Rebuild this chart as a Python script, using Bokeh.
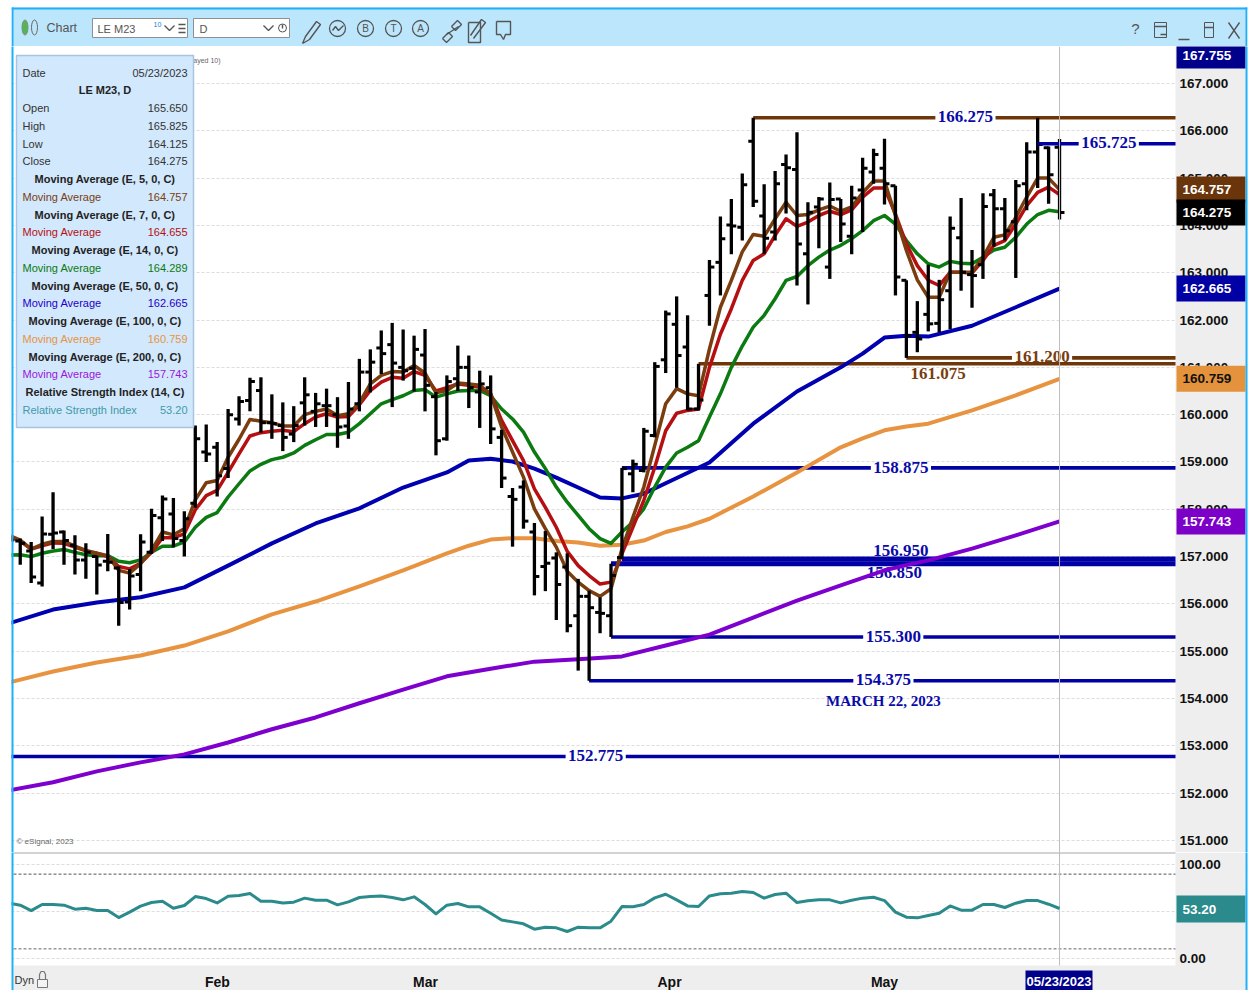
from bokeh.plotting import figure
from bokeh.layouts import column
from bokeh.models import Range1d, FixedTicker, NumeralTickFormatter
from bokeh.core.properties import value
from bokeh.embed import file_html
from bokeh.resources import INLINE

# ---------- data ----------
highs = [157.43,157.38,157.31,157.85,158.36,157.55,157.45,157.28,157.02,157.48,156.79,156.74,157.47,158.01,158.29,158.24,157.96,159.77,159.79,159.42,
 160.12,160.39,160.78,160.79,160.43,160.26,160.18,160.79,160.46,160.55,160.37,160.69,161.18,161.38,161.78,161.94,161.80,161.67,161.81,160.48,
 160.83,161.46,161.25,160.93,160.83,159.68,158.45,158.61,157.71,157.54,157.09,157.07,156.53,156.28,156.14,156.85,158.875,159.05,159.72,161.11,
 162.20,162.50,162.10,161.075,163.27,164.19,164.56,165.10,166.275,164.87,165.15,165.50,165.97,164.49,164.60,164.91,164.56,164.84,165.43,165.62,
 165.83,164.84,162.84,162.40,163.17,162.85,164.19,164.58,163.48,164.68,164.77,164.58,164.96,165.76,166.275,165.67,165.825]
lows = [157.27,156.83,156.44,156.37,157.16,156.83,156.62,156.53,156.20,156.69,155.54,155.88,156.27,157.06,157.33,157.20,157.00,158.03,159.00,158.27,
 158.66,159.77,160.07,159.62,159.49,159.23,159.42,159.77,159.74,159.74,159.30,159.49,160.07,160.47,160.86,160.16,160.72,160.49,160.07,159.14,
 159.45,160.50,160.14,159.72,159.38,158.45,157.21,157.59,156.18,156.27,155.66,155.40,154.59,154.375,155.38,155.30,156.95,158.36,158.78,159.52,
 160.88,160.57,160.09,160.09,161.88,162.52,163.39,163.68,164.39,163.40,163.68,164.25,162.73,162.33,163.52,162.87,163.65,163.39,163.86,164.88,
 164.44,162.52,161.20,161.32,161.76,161.74,161.81,162.62,162.26,162.87,163.55,163.68,162.89,164.32,164.79,164.46,164.125]
opens = [157.38,157.33,157.12,156.44,157.47,157.52,157.24,156.93,157.00,156.90,156.76,156.04,156.62,157.09,157.82,157.90,157.34,158.13,159.21,159.31,
 158.86,159.91,160.30,160.51,159.83,159.77,159.59,160.25,160.07,160.19,160.00,159.76,160.23,160.90,161.41,161.48,161.00,160.98,161.26,160.38,
 159.49,160.76,161.00,160.48,160.57,159.52,158.27,158.47,157.52,156.79,156.97,156.78,155.75,156.16,155.82,155.75,156.98,158.75,158.82,159.56,
 161.16,161.91,161.43,160.12,162.52,163.22,164.01,163.96,165.78,164.20,163.86,165.29,165.18,163.40,164.39,163.12,164.56,163.77,164.75,165.13,
 165.21,164.84,162.84,161.74,162.12,161.93,162.62,163.74,162.96,163.17,164.65,164.35,164.08,164.88,165.55,165.64,165.65]
closes = [157.35,157.28,156.57,157.48,157.50,157.34,156.93,157.09,156.82,156.88,156.03,156.59,157.31,157.87,158.22,157.38,157.80,159.49,159.17,158.71,
 160.00,160.28,160.70,159.83,159.81,159.52,159.77,160.42,160.23,160.19,159.74,160.12,160.90,161.11,161.29,161.09,160.93,161.38,160.62,159.45,
 160.70,161.00,160.57,160.65,159.70,158.66,158.21,157.75,156.58,156.86,156.41,155.54,156.16,155.92,155.80,156.60,158.86,158.95,159.65,161.02,
 162.13,161.25,160.12,160.31,163.12,163.72,163.99,164.86,164.51,163.73,164.88,165.22,163.61,164.28,164.56,164.55,164.03,164.58,165.21,165.50,
 164.88,162.91,161.67,161.60,161.92,162.43,163.94,163.01,162.94,164.40,164.35,163.89,164.84,165.55,165.71,165.07,164.275]

ma5 = [157.45,157.35,157.16,157.26,157.32,157.32,157.22,157.13,157.07,157.02,156.71,156.65,156.85,157.13,157.52,157.46,157.59,158.20,158.56,158.61,
 159.10,159.48,159.90,159.86,159.83,159.76,159.76,160.00,160.07,160.12,159.98,160.02,160.25,160.65,160.83,160.91,160.90,161.04,160.88,160.46,
 160.51,160.67,160.65,160.62,160.44,159.74,159.21,158.68,158.01,157.59,157.20,156.69,156.46,156.28,156.16,156.32,157.16,157.83,158.47,159.35,
 160.23,160.55,160.44,160.40,161.39,162.27,162.84,163.44,163.81,163.77,164.14,164.49,164.21,164.23,164.33,164.41,164.30,164.39,164.69,164.94,
 164.94,164.21,163.47,162.85,162.48,162.48,163.01,163.01,163.01,163.33,163.75,163.80,164.17,164.60,165.00,165.00,164.757]
ma7 = [157.42,157.33,157.16,157.23,157.29,157.28,157.20,157.12,157.07,157.00,156.79,156.74,156.86,157.09,157.40,157.40,157.48,157.99,158.29,158.40,
 158.78,159.17,159.55,159.62,159.65,159.67,159.64,159.81,159.95,160.02,159.95,159.96,160.21,160.51,160.69,160.79,160.77,160.91,160.83,160.50,
 160.57,160.65,160.62,160.58,160.44,159.88,159.45,159.03,158.43,158.04,157.62,157.11,156.81,156.60,156.42,156.46,157.06,157.62,158.19,158.89,
 159.66,160.03,160.09,160.12,161.00,161.70,162.24,162.84,163.26,163.40,163.79,164.14,163.98,164.07,164.21,164.30,164.23,164.33,164.60,164.79,
 164.79,164.24,163.61,163.15,162.84,162.73,163.01,163.01,162.99,163.26,163.58,163.68,164.03,164.42,164.70,164.81,164.655]
ma14 = [157.03,157.04,157.00,157.07,157.12,157.15,157.09,157.04,157.02,157.02,156.90,156.87,156.93,157.09,157.22,157.22,157.31,157.62,157.83,157.93,
 158.26,158.54,158.81,158.95,159.05,159.10,159.19,159.35,159.47,159.58,159.58,159.63,159.81,160.02,160.23,160.32,160.40,160.51,160.53,160.37,
 160.44,160.50,160.51,160.51,160.40,160.12,159.91,159.63,159.21,158.86,158.47,158.15,157.87,157.59,157.38,157.28,157.52,157.73,158.01,158.47,
 158.89,159.19,159.31,159.45,159.95,160.44,161.00,161.45,161.85,162.10,162.45,162.84,162.92,163.15,163.33,163.48,163.58,163.72,163.89,164.10,
 164.21,164.03,163.68,163.40,163.19,163.12,163.24,163.20,163.19,163.33,163.48,163.54,163.75,164.03,164.23,164.32,164.289]

ma50_bars = [0,4,8,12,16,20,24,28,32,36,40,42,44,46,48,50,52,54,56,58,60,64,68,72,76,78,80,82,84,88,92,96]
ma50 = [155.59,155.88,156.03,156.14,156.35,156.81,157.28,157.70,158.02,158.46,158.78,159.03,159.07,159.01,158.86,158.67,158.46,158.25,158.23,158.33,158.55,158.99,159.81,160.49,161.00,161.29,161.63,161.67,161.65,161.88,162.27,162.665]
ma100_bars = [0,4,8,12,16,20,24,28,32,36,40,42,44,46,48,50,52,54,56,58,60,62,64,68,72,76,78,80,82,84,88,92,96]
ma100 = [154.34,154.57,154.76,154.91,155.12,155.42,155.78,156.05,156.37,156.71,157.07,157.23,157.36,157.39,157.39,157.33,157.30,157.23,157.25,157.34,157.52,157.64,157.80,158.27,158.78,159.31,159.50,159.67,159.75,159.81,160.09,160.41,160.759]
ma200_bars = [0,4,8,12,16,20,24,28,32,36,40,44,48,52,56,60,64,68,72,76,78,80,82,84,88,92,96]
ma200 = [152.06,152.23,152.46,152.65,152.82,153.07,153.35,153.60,153.90,154.19,154.47,154.63,154.78,154.83,154.89,155.12,155.35,155.71,156.07,156.39,156.55,156.71,156.82,156.92,157.17,157.45,157.743]

rsi = [58.9,56.8,51.0,57.5,57.5,56.8,52.5,53.5,51.0,51.0,43.5,49.3,55.7,59.6,61.0,53.5,56.4,66.0,63.9,59.2,
 66.4,67.1,69.2,61.0,61.0,59.2,60.0,64.3,62.1,62.1,57.1,60.3,65.0,66.0,66.7,65.0,62.5,65.7,57.5,47.5,
 56.8,58.5,55.0,55.0,48.2,41.0,38.9,36.8,31.1,33.2,32.5,28.6,33.2,32.5,32.5,39.6,55.3,55.0,57.5,64.6,
 68.5,62.5,56.0,55.3,66.7,68.9,69.6,71.4,70.3,64.3,68.2,69.6,59.6,61.4,62.5,62.5,59.2,62.1,64.3,65.3,
 61.7,49.3,43.9,43.2,45.7,48.2,56.0,51.4,51.4,57.5,57.5,54.3,58.9,61.7,61.7,57.8,53.2]

price_ticks = [151,152,153,154,155,156,157,158,159,160,161,162,163,164,165,166,167]
month_labels = ["Feb","Mar","Apr","May"]
month_bars = [19.03,38.04,60.35,80.0]

level_values = [166.275,165.725,161.2,161.075,158.875,156.95,156.85,155.3,154.375,152.775]
level_starts = [68,94,82,63,56,56,55,55,53,0]
level_text = ["166.275","165.725","161.200","161.075","158.875","156.950","156.850","155.300","154.375","152.775"]

info_rows = [("Date","05/23/2023",0),("LE M23, D","",1),("Open","165.650",0),("High","165.825",0),("Low","164.125",0),("Close","164.275",0),
 ("Moving Average (E, 5, 0, C)","",1),("Moving Average","164.757",2),("Moving Average (E, 7, 0, C)","",1),("Moving Average","164.655",3),
 ("Moving Average (E, 14, 0, C)","",1),("Moving Average","164.289",4),("Moving Average (E, 50, 0, C)","",1),("Moving Average","162.665",5),
 ("Moving Average (E, 100, 0, C)","",1),("Moving Average","160.759",6),("Moving Average (E, 200, 0, C)","",1),("Moving Average","157.743",7),
 ("Relative Strength Index (14, C)","",1),("Relative Strength Index","53.20",8)]

tag_vals=[164.757,164.275,162.665,160.759,157.743]
tag_cols=["#6b350c","#000000","#0000a5","#e5923c","#7c00c8"]
tag_txt=["#ffffff","#ffffff","#ffffff","#111111","#ffffff"]

# ---------- style ----------
SANS = "Liberation Sans"
SERIF = "Liberation Serif"
BROWN="#7a3d10"; RED="#b50f12"; GREEN="#0b7a10"; BLUE="#0000b0"; ORANGE="#e8933f"; PURPLE="#7d00cf"; TEAL="#2b8a8c"
EDGE="#1fb0fa"; PANEL="#eeeeee"; LEVEL_BROWN="#6f3609"; NAVY="#0000a5"; LABEL_BLUE="#0a0aa8"

bar_step=10.94; bar0_px=8.8
def X(px): return (px-bar0_px)/bar_step
def Y(py): return 167-(py-83)/47.31
def YR(py): return (957.7-py)/0.934
x_range=Range1d(X(11),X(1247))
FRAME_W=1236
bars=list(range(len(closes)))
XEND=X(1175)

# ---------- price panel ----------
p=figure(width=1248,height=806,frame_width=FRAME_W,frame_height=806,x_range=x_range,y_range=Range1d(Y(852),Y(46)),
         output_backend="svg",toolbar_location=None,y_axis_location="right",x_axis_location=None,
         min_border_left=11,min_border_right=1,min_border_top=0,min_border_bottom=0,outline_line_color=None)
p.background_fill_color="white"; p.border_fill_color="white"
p.xgrid.visible=False
p.ygrid.ticker=FixedTicker(ticks=price_ticks)
p.ygrid.grid_line_color="#dcdcdc"; p.ygrid.grid_line_dash="3 2"
ax=p.yaxis[0]
ax.ticker=FixedTicker(ticks=price_ticks); ax.formatter=NumeralTickFormatter(format="0.000")
ax.axis_line_color=None; ax.major_tick_line_color=None; ax.minor_tick_line_color=None
ax.major_label_text_font=SANS; ax.major_label_text_font_size="13.5px"; ax.major_label_text_font_style="bold"
ax.major_label_text_color="#111111"; ax.major_label_standoff=-74

p.quad(left=[XEND],right=[X(1245)],top=[Y(46)],bottom=[Y(852)],fill_color=PANEL,line_color=None)

label_bars=[87.4,100.5,94.4,84.9,81.5,81.5,80.9,80.8,79.9,53.6]
label_pys=[116,142,356,373,467,550,572,636,679,755]
label_gap=[True,True,True,False,True,False,False,True,True,True]
for lv,st,tx in zip(level_values,level_starts,level_text):
    col = LEVEL_BROWN if tx in ("166.275","161.200","161.075") else NAVY
    if tx=="165.725":
        continue
    p.segment([st],[lv],[XEND],[lv],line_color=col,line_width=5 if tx.startswith("156") else 3.6)
for lv,tx,bx,gap in zip(level_values,level_text,label_bars,label_gap):
    if gap and tx!="165.725":
        p.segment([bx-2.75],[lv],[bx+2.75],[lv],line_color="white",line_width=6)
for tx,bx,py in zip(level_text,label_bars,label_pys):
    if tx=="165.725":
        continue
    col = BROWN if tx in ("161.200","161.075") else LABEL_BLUE
    p.text([bx],[Y(py)],text=[tx],text_color=col,text_font=value(SERIF),text_font_style="bold",text_font_size="17px",
           text_align="center",text_baseline="middle")
p.text([79.9],[Y(700)],text=["MARCH 22, 2023"],text_color=LABEL_BLUE,text_font=value(SERIF),text_font_size="15px",text_font_style="bold",
       text_align="center",text_baseline="middle")

p.line(ma200_bars,ma200,line_color=PURPLE,line_width=4,line_join="round")
p.line(ma100_bars,ma100,line_color=ORANGE,line_width=4,line_join="round")
p.line(ma50_bars,ma50,line_color=BLUE,line_width=4,line_join="round")
for vals,col in ((ma14,GREEN),(ma7,RED),(ma5,BROWN)):
    p.line(bars,vals,line_color=col,line_width=3.5,line_join="round")

p.segment(bars,lows,bars,highs,line_color="black",line_width=3.3)
p.segment([b-0.45 for b in bars],opens,bars,opens,line_color="black",line_width=3)
p.segment(bars,closes,[b+0.45 for b in bars],closes,line_color="black",line_width=3)

p.segment([level_starts[1]],[level_values[1]],[XEND],[level_values[1]],line_color=NAVY,line_width=3.6)
p.segment([label_bars[1]-2.75],[level_values[1]],[label_bars[1]+2.75],[level_values[1]],line_color="white",line_width=6)
p.text([label_bars[1]],[Y(142)],text=[level_text[1]],text_color=LABEL_BLUE,text_font=value(SERIF),text_font_style="bold",text_font_size="17px",
       text_align="center",text_baseline="middle")

p.segment([96],[Y(46)],[96],[Y(852)],line_color="#bdbdbd",line_width=1)

# info box
p.text([X(220)],[Y(60)],text=["(played 10)"],text_color="#666666",text_font=value(SANS),text_font_size="7px",text_align="right",text_baseline="middle")
p.quad(left=[X(16)],right=[X(193)],top=[Y(55)],bottom=[Y(427)],fill_color="#d2e8fc",line_color="#a8c4e0",line_width=1.5)
info_cols=["#333333","#222222",BROWN,RED,GREEN,"#2200c8",ORANGE,"#9a16dc","#3f9aa8"]
for k,(a,b,c) in enumerate(info_rows):
    py=72+k*17.75
    if c==1:
        p.text([X(104.5)],[Y(py)],text=[a],text_color="#222222",text_font=value(SANS),text_font_style="bold",text_font_size="11px",text_align="center",text_baseline="middle")
    else:
        col=info_cols[c]
        p.text([X(22)],[Y(py)],text=[a],text_color=col,text_font=value(SANS),text_font_size="11px",text_baseline="middle")
        p.text([X(187)],[Y(py)],text=[b],text_color=col,text_font=value(SANS),text_font_size="11px",text_align="right",text_baseline="middle")
p.text([X(16)],[Y(841)],text=["© eSignal, 2023"],text_color="#666666",text_font=value(SANS),text_font_size="8px",text_baseline="middle")

# value tags
tag_half=13/47.31
p.quad(left=[X(1176)],right=[X(1245)],top=[Y(46)],bottom=[Y(68)],fill_color="#00008b",line_color=None,level="overlay")
p.text([X(1182)],[Y(55)],text=["167.755"],text_color="#ffffff",text_font=value(SANS),text_font_style="bold",text_font_size="13.5px",text_baseline="middle",level="overlay")
for v,c,tc in zip(tag_vals,tag_cols,tag_txt):
    p.quad(left=[X(1176)],right=[X(1245)],top=[v+tag_half],bottom=[v-tag_half],fill_color=c,line_color=None,level="overlay")
for v,c,tc in zip(tag_vals,tag_cols,tag_txt):
    p.text([X(1182)],[v],text=[f"{v:.3f}"],text_color=tc,text_font=value(SANS),text_font_style="bold",text_font_size="13.5px",text_baseline="middle",level="overlay")
p.quad(left=[X(11)],right=[X(13)],top=[Y(46)],bottom=[Y(852)],fill_color=EDGE,line_color=None,level="overlay")
p.quad(left=[X(1245)],right=[X(1247)],top=[Y(46)],bottom=[Y(852)],fill_color=EDGE,line_color=None,level="overlay")

# ---------- RSI panel ----------
r=figure(width=1248,height=138,frame_width=FRAME_W,frame_height=138,x_range=x_range,y_range=Range1d(YR(990),YR(852)),
         output_backend="svg",toolbar_location=None,y_axis_location="right",
         min_border_left=11,min_border_right=1,min_border_top=0,min_border_bottom=0,outline_line_color=None)
r.background_fill_color="white"; r.border_fill_color="white"
r.xgrid.visible=False
r.ygrid.ticker=FixedTicker(ticks=[0,50,100]); r.ygrid.grid_line_color="#dcdcdc"; r.ygrid.grid_line_dash="3 2"
ra=r.yaxis[0]; ra.ticker=FixedTicker(ticks=[0,100]); ra.formatter=NumeralTickFormatter(format="0.00")
ra.axis_line_color=None; ra.major_tick_line_color=None; ra.minor_tick_line_color=None
ra.major_label_text_font=SANS; ra.major_label_text_font_size="13.5px"; ra.major_label_text_font_style="bold"; ra.major_label_text_color="#111111"; ra.major_label_standoff=-74
xa=r.xaxis[0]; xa.ticker=FixedTicker(ticks=month_bars)
xa.major_label_overrides={t:l for t,l in zip(month_bars,month_labels)}
xa.axis_line_color=None; xa.major_tick_line_color=None; xa.minor_tick_line_color=None
xa.major_label_text_font=SANS; xa.major_label_text_font_size="14px"; xa.major_label_text_font_style="bold"; xa.major_label_text_color="#111111"; xa.major_label_standoff=-23

r.quad(left=[XEND],right=[X(1245)],top=[YR(852)],bottom=[YR(990)],fill_color=PANEL,line_color=None)
r.quad(left=[X(13)],right=[X(1245)],top=[YR(965)],bottom=[YR(990)],fill_color=PANEL,line_color=None)
for lvl,c in ((90,"#555555"),(10,"#666666")):
    r.segment([X(13)],[lvl],[XEND],[lvl],line_color=c,line_width=1,line_dash="3 2")
r.segment([96],[YR(852)],[96],[YR(965)],line_color="#bdbdbd",line_width=1)
r.line(bars,rsi,line_color=TEAL,line_width=3,line_join="round")
r.quad(left=[X(13)],right=[XEND],top=[YR(851)],bottom=[YR(853)],fill_color="#a8a8a8",line_color=None)
r.quad(left=[X(1176)],right=[X(1245)],top=[YR(895)],bottom=[YR(922)],fill_color=TEAL,line_color=None,level="overlay")
r.text([X(1182)],[YR(909)],text=["53.20"],text_color="#ffffff",text_font=value(SANS),text_font_style="bold",text_font_size="13.5px",text_baseline="middle",level="overlay")
r.quad(left=[X(1025)],right=[X(1092)],top=[YR(970)],bottom=[YR(990)],fill_color="#00008b",line_color=None,level="overlay")
r.text([X(1058.5)],[YR(981)],text=["05/23/2023"],text_color="#ffffff",text_font=value(SANS),text_font_style="bold",text_font_size="13px",text_align="center",text_baseline="middle",level="overlay")
r.text([X(14)],[YR(979)],text=["Dyn"],text_color="#333333",text_font=value(SANS),text_font_size="11px",text_baseline="middle",level="overlay")
r.quad(left=[X(37)],right=[X(47)],top=[YR(979)],bottom=[YR(987)],fill_color="#f4f4f4",line_color="#777777",level="overlay")
r.line([X(39),X(39),X(40.5),X(43.5),X(45),X(45)],[YR(979),YR(974),YR(971),YR(971),YR(974),YR(979)],line_color="#777777",line_width=1.2,level="overlay")
r.quad(left=[X(11)],right=[X(13)],top=[YR(852)],bottom=[YR(990)],fill_color=EDGE,line_color=None,level="overlay")
r.quad(left=[X(1245)],right=[X(1247)],top=[YR(852)],bottom=[YR(990)],fill_color=EDGE,line_color=None,level="overlay")

# ---------- title bar (coordinates: page px minus 8) ----------
t=figure(width=1248,height=46,frame_width=FRAME_W,frame_height=46,x_range=Range1d(3,1239),y_range=Range1d(38,-8),output_backend="svg",toolbar_location=None,
         x_axis_location=None,y_axis_location=None,min_border_left=11,min_border_right=1,min_border_top=0,min_border_bottom=0,outline_line_color=None)
t.grid.visible=False
t.background_fill_color="white"; t.border_fill_color="white"
t.quad(left=[3],right=[1239],top=[-1],bottom=[38],fill_color="#bce6fc",line_color=None)
t.quad(left=[3],right=[1239],top=[-1],bottom=[1],fill_color=EDGE,line_color=None)
t.quad(left=[3],right=[5],top=[-1],bottom=[38],fill_color=EDGE,line_color=None)
t.quad(left=[1237],right=[1239],top=[-1],bottom=[38],fill_color=EDGE,line_color=None)
GR="#555555"
def txt(x,y,s,size="14px",color=GR,align="left",font=SANS):
    t.text([x],[y],text=[s],text_font=value(font),text_font_size=size,text_color=color,text_align=align,text_baseline="middle")
def box(l,r_,tp,b,fc="white",lc="#8f8f8f"):
    t.quad(left=[l],right=[r_],top=[tp],bottom=[b],fill_color=fc,line_color=lc,line_width=1)
def ln(xs,ys,c=GR,w=1.4):
    t.line(xs,ys,line_color=c,line_width=w)
t.ellipse([16.5],[19],width=6,height=15,fill_color="#4fb84f",line_color="#888888")
t.ellipse([26],[19],width=6,height=15,fill_color="#bce6fc",line_color="#666666")
txt(38,19,"Chart","12.5px")
box(84,179,10,29); txt(89,20,"LE M23","11px"); txt(145,16,"10","7px","#2080e0")
ln([156,161,166],[17,22,17]); ln([170,177],[16,16]); ln([170,177],[20,20]); ln([170,177],[24,24])
box(185,281,10,29); txt(191,20,"D","11px"); ln([255,260,265],[17,22,17])
t.circle([274],[19.5],radius=4,fill_color="white",line_color=GR); ln([274,274],[16,20])
ln([294,297,308,312,301,294,294],[35,28,13,16,31,35,35])
for cx,ch in ((357,"B"),(385,"T"),(412,"A")):
    t.circle([cx],[20],radius=8,fill_color=None,line_color=GR,line_width=1.3)
    txt(cx,20,ch,"10px",GR,"center")
t.circle([329],[20],radius=8,fill_color=None,line_color=GR,line_width=1.3)
ln([324,327,330,332,335],[22,18,22,20,17])
ln([434,440,444,438,434],[30,24,28,34,30]); ln([443,449,453,447,443],[18,12,16,22,18]); ln([438,450],[26,18])
ln([460,460,472,472,460],[14,34,34,14,14]); ln([465,477,473,462],[30,14,11,27])
ln([488,502,502,497,495,492,488,488],[13,13,26,26,31,26,26,13])
txt(1127,20,"?","15px",GR,"center")
box(1146,1158,14,29,"#bce6fc",GR); ln([1146,1158],[18,18],GR,1.5); ln([1152,1158],[26,26])
ln([1170,1181],[31,31]); box(1196,1205,14,29,"#bce6fc",GR); ln([1196,1205],[19,19])
ln([1220,1231],[14,30]); ln([1220,1231],[30,14])

page=column(t,p,r,spacing=0)
open("out.html","w").write(file_html(page,INLINE))
